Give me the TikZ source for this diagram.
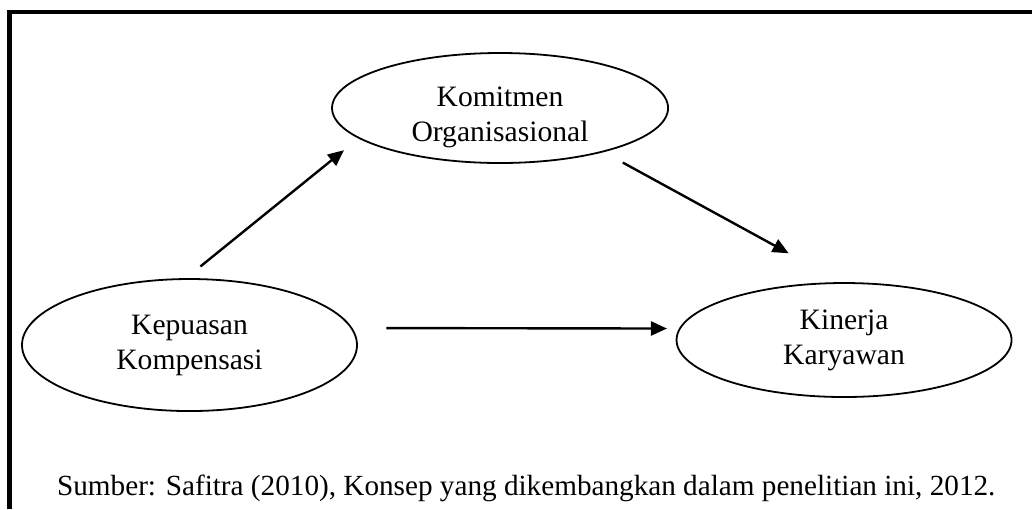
\documentclass[tikz,border=0pt]{standalone}
\usepackage{fontspec}
\setmainfont{Liberation Serif}
\usetikzlibrary{arrows.meta,shapes.geometric}

\tikzset{
  elips/.style={ellipse, draw, line width=0.9pt, inner sep=0pt, outer sep=0pt,
    align=center, font=\fontsize{14.8}{17.5}\selectfont},
  panah/.style={-{Triangle[length=8pt,width=7pt]}, line width=1.2pt},
}

\begin{document}
\begin{tikzpicture}
    \useasboundingbox (0,0) rectangle (18.135,8.945);
    % bingkai
    \draw[line width=2.3pt] (0.162,0) -- (0.162,8.734) -- (18.135,8.734);

    % konstruk
    \node[elips, minimum width=5.905cm, minimum height=1.933cm] (komitmen) at (8.787,7.047)
        {\raisebox{-4.5pt}[\height][\depth]{\begin{tabular}{@{}c@{}}Komitmen\\Organisasional\end{tabular}}};
    \node[elips, minimum width=5.887cm, minimum height=2.320cm] (kepuasan) at (3.330,2.882)
        {Kepuasan\\Kompensasi};
    \node[elips, minimum width=5.887cm, minimum height=2.003cm] (kinerja) at (14.832,2.970)
        {Kinerja\\Karyawan};

    \node[anchor=base west, font=\fontsize{14.6}{17}\selectfont] (sumber) at (0.880,0.246)
        {Sumber: Safitra (2010), Konsep yang dikembangkan dalam penelitian ini, 2012.};

    % hubungan
    \draw[panah, shorten <=10pt, shorten >=9.75pt] (kepuasan.94) -- (komitmen.192);
    \draw[panah, shorten <=11.5pt, shorten >=31pt] (komitmen.-23) -- (kinerja.91);
    \draw[panah, shorten <=17.5pt, shorten >=6.5pt] (kepuasan.6) -- (kinerja.176);
\end{tikzpicture}
\end{document}
